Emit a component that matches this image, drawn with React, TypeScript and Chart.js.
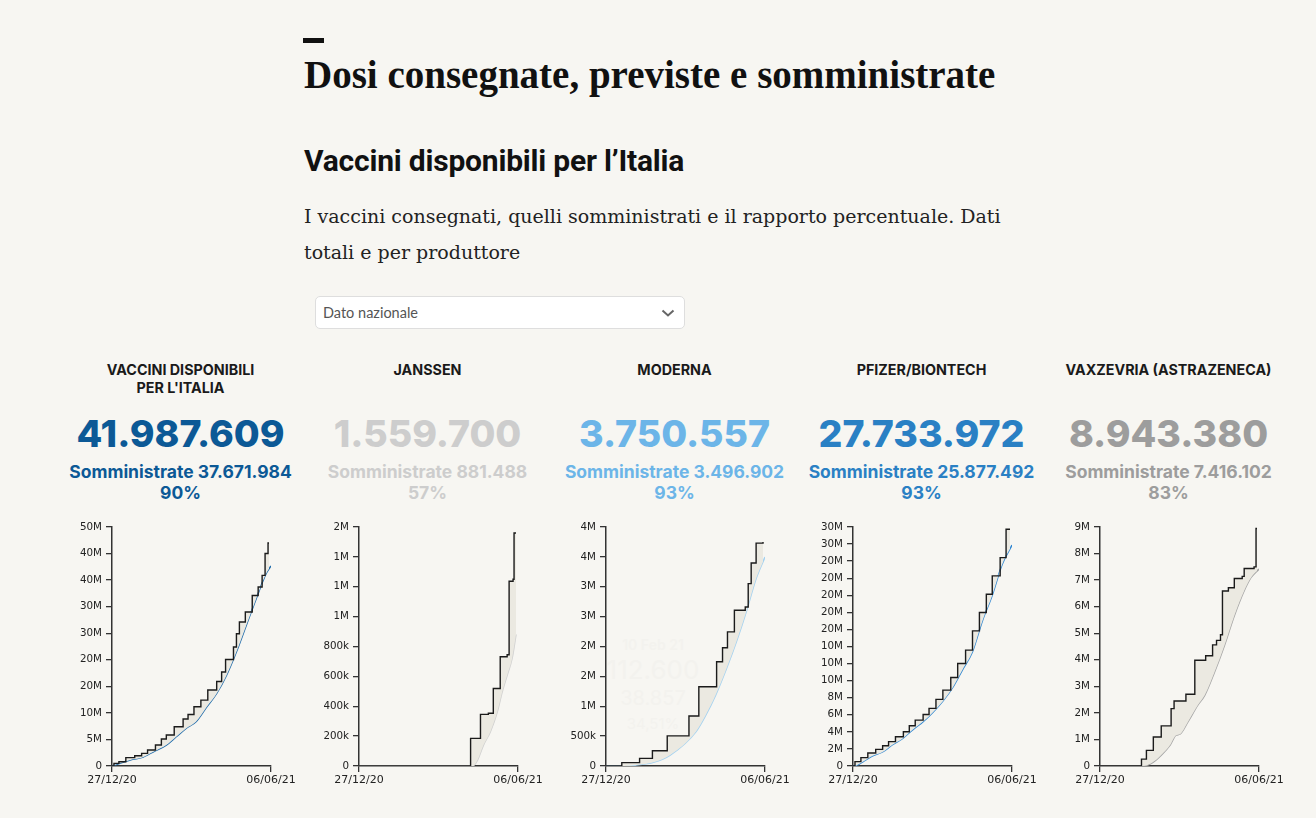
import React, { useEffect, useRef } from 'react';
import { Chart, registerables } from 'chart.js';

Chart.register(...registerables);

// ---------- DATA ----------
const vaccineNames = ["VACCINI DISPONIBILI\nPER L'ITALIA", 'JANSSEN', 'MODERNA', 'PFIZER/BIONTECH', 'VAXZEVRIA (ASTRAZENECA)'];
const deliveredTotals = [41987609, 1559700, 3750557, 27733972, 8943380];
const administeredTotals = [37671984, 881488, 3496902, 25877492, 7416102];
const percentages = ['90%', '57%', '93%', '93%', '83%'];

// x: giorni dal 27/12/20 (0) al 06/06/21 (161)
const xTickDays = [0, 161];
const xTickLabels = ['27/12/20', '06/06/21'];

// Totale
const totDelDays = [0, 2, 7, 14, 23, 30, 36, 44, 50, 55, 63, 72, 77, 83, 90, 97, 106, 111, 115, 123, 126, 129, 135, 142, 148, 152, 155, 158, 159];
const totDelValues = [0, 500000, 810000, 1570000, 1940000, 2380000, 3000000, 3950000, 5080000, 5830000, 7400000, 8840000, 9700000, 11150000, 12400000, 14300000, 15900000, 17700000, 20050000, 22400000, 24900000, 27100000, 29000000, 32100000, 33700000, 35900000, 40000000, 41987609, 41987609];
const totAdmDays = [0, 11, 21, 30, 42, 55, 65, 75, 85, 96, 106, 116, 126, 136, 146, 156, 161];
const totAdmValues = [0, 690000, 1250000, 1570000, 2690000, 3950000, 5510000, 7080000, 8330000, 11160000, 13660000, 17100000, 21500000, 26500000, 31500000, 36200000, 37671984];
const totYTicks = [0, 5e6, 10e6, 15e6, 20e6, 25e6, 30e6, 35e6, 40e6, 45e6];
const totYLabels = ['0', '5M', '10M', '20M', '20M', '30M', '30M', '40M', '40M', '50M'];

// Janssen
const janDelDays = [0, 113, 123, 131, 136, 143, 150, 152, 156, 157, 159];
const janDelValues = [0, 184800, 345600, 352800, 518400, 731400, 745000, 1236500, 1250000, 1559700, 1559700];
const janAdmDays = [0, 115, 120, 126, 133, 140, 145, 150, 155, 159];
const janAdmValues = [0, 0, 40000, 140000, 230000, 363000, 497000, 608000, 720000, 881488];
const janYTicks = [0, 200000, 400000, 600000, 800000, 1000000, 1200000, 1400000, 1600000];
const janYLabels = ['0', '200k', '400k', '600k', '800k', '1M', '1M', '1M', '2M'];

// Moderna
const modDelDays = [0, 16, 34, 47, 62, 84, 94, 112, 118, 123, 130, 141, 144, 147, 152, 159];
const modDelValues = [0, 56000, 128000, 256000, 505000, 836000, 1326000, 1744000, 1978000, 2245000, 2607000, 2660000, 3053000, 3398000, 3730000, 3750557];
const modAdmDays = [0, 18, 31, 48, 65, 91, 101, 111, 122, 132, 142, 152, 161];
const modAdmValues = [0, 0, 17000, 61000, 184000, 574000, 852000, 1187000, 1632000, 2078000, 2580000, 3137000, 3496902];
const modYTicks = [0, 500000, 1000000, 1500000, 2000000, 2500000, 3000000, 3500000, 4000000];
const modYLabels = ['0', '500k', '1M', '2M', '2M', '3M', '3M', '4M', '4M'];

// Pfizer/BioNTech
const pfiDelDays = [0, 2, 8, 15, 23, 30, 36, 43, 51, 57, 63, 71, 77, 84, 91, 99, 106, 114, 121, 128, 135, 141, 149, 155, 159];
const pfiDelValues = [0, 510000, 980000, 1520000, 1950000, 2380000, 2850000, 3430000, 4020000, 4720000, 5380000, 6040000, 6750000, 7800000, 8890000, 10370000, 12000000, 13570000, 15830000, 17980000, 20120000, 22270000, 24410000, 27733972, 27733972];
const pfiAdmDays = [0, 2, 10, 20, 30, 40, 50, 61, 71, 81, 91, 101, 111, 121, 131, 141, 151, 161];
const pfiAdmValues = [0, 20000, 500000, 1200000, 1650000, 2500000, 3200000, 4300000, 5200000, 6300000, 7600000, 9200000, 11300000, 13400000, 17000000, 20000000, 23600000, 25877492];
const pfiYTicks = [0, 2e6, 4e6, 6e6, 8e6, 10e6, 12e6, 14e6, 16e6, 18e6, 20e6, 22e6, 24e6, 26e6, 28e6];
const pfiYLabels = ['0', '2M', '4M', '6M', '8M', '10M', '10M', '10M', '20M', '20M', '20M', '20M', '20M', '30M', '30M'];

// Vaxzevria (AstraZeneca)
const astDelDays = [0, 42, 47, 54, 62, 72, 75, 87, 96, 107, 114, 118, 122, 124, 130, 136, 144, 146, 156, 158, 159];
const astDelValues = [0, 260000, 590000, 1090000, 1510000, 2160000, 2450000, 2700000, 3980000, 4150000, 4560000, 4730000, 4940000, 6590000, 6710000, 7060000, 7140000, 7440000, 7500000, 8943380, 8943380];
const astAdmDays = [0, 43, 52, 62, 71, 77, 81, 89, 99, 106, 116, 126, 136, 146, 153, 161];
const astAdmValues = [0, 0, 100000, 410000, 790000, 1160000, 1200000, 1660000, 2290000, 2660000, 3540000, 4540000, 5660000, 6600000, 7100000, 7416102];
const astYTicks = [0, 1e6, 2e6, 3e6, 4e6, 5e6, 6e6, 7e6, 8e6, 9e6];
const astYLabels = ['0', '1M', '2M', '3M', '4M', '5M', '6M', '7M', '8M', '9M'];

// ---------- STYLE ----------
const BG = '#f7f6f2';
const FILL = '#ebe9e1';
const AXIS = '#333333';
const numberColors = ['#0c5996', '#cdcdcd', '#6cb5e8', '#2a80c4', '#9d9d9d'];
const lineColors = ['#1d6aab', '#d0d0d0', '#a3d1f0', '#3489d2', '#a5a5a5'];

const series = [
  { dd: totDelDays, dv: totDelValues, ad: totAdmDays, av: totAdmValues, yt: totYTicks, yl: totYLabels },
  { dd: janDelDays, dv: janDelValues, ad: janAdmDays, av: janAdmValues, yt: janYTicks, yl: janYLabels },
  { dd: modDelDays, dv: modDelValues, ad: modAdmDays, av: modAdmValues, yt: modYTicks, yl: modYLabels },
  { dd: pfiDelDays, dv: pfiDelValues, ad: pfiAdmDays, av: pfiAdmValues, yt: pfiYTicks, yl: pfiYLabels },
  { dd: astDelDays, dv: astDelValues, ad: astAdmDays, av: astAdmValues, yt: astYTicks, yl: astYLabels },
];

const fmt = (n: number) => String(n).replace(/\B(?=(\d{3})+(?!\d))/g, '.');

const COL_W = 247;
const COL_X0 = 57;

function MiniChart({ idx }: { idx: number }) {
  const ref = useRef<HTMLCanvasElement | null>(null);
  useEffect(() => {
    const s = series[idx];
    const delPts = s.dd.map((d, i) => ({ x: d, y: s.dv[i] }));
    const admPts = s.ad.map((d, i) => ({ x: d, y: s.av[i] }));
    const ymax = s.yt[s.yt.length - 1];
    const chart = new Chart(ref.current as HTMLCanvasElement, {
      type: 'line',
      data: {
        datasets: [
          {
            data: delPts,
            borderColor: '#1b1b1b',
            borderWidth: 1.4,
            stepped: 'before',
            pointRadius: 0,
            fill: '+1',
            backgroundColor: FILL,
          } as any,
          {
            data: admPts,
            borderColor: lineColors[idx],
            borderWidth: 1.5,
            pointRadius: 0,
            cubicInterpolationMode: 'monotone',
            fill: false,
          } as any,
        ],
      },
      options: {
        animation: false,
        responsive: false,
        events: [],
        layout: { padding: { top: 12, right: 33, bottom: 0, left: 0 } },
        plugins: { legend: { display: false }, tooltip: { enabled: false } },
        scales: {
          x: {
            type: 'linear',
            min: 0,
            max: 161,
            afterBuildTicks: (sc: any) => {
              sc.ticks = xTickDays.map((v) => ({ value: v }));
            },
            afterFit: (sc: any) => {
              sc.height = 29;
            },
            ticks: {
              autoSkip: false,
              maxRotation: 0,
              padding: 2,
              color: '#222',
              font: { family: 'DejaVu Sans', size: 11 },
              callback: (_v: any, i: number) => xTickLabels[i],
            },
            grid: { drawOnChartArea: false, tickLength: 6, color: AXIS, lineWidth: 1.3 },
            border: { color: AXIS, width: 1.5 },
          },
          y: {
            type: 'linear',
            min: 0,
            max: ymax,
            afterBuildTicks: (sc: any) => {
              sc.ticks = s.yt.map((v) => ({ value: v }));
            },
            afterFit: (sc: any) => {
              sc.width = 55;
            },
            ticks: {
              autoSkip: false,
              padding: 4,
              color: '#222',
              font: { family: 'DejaVu Sans', size: 10.3 },
              callback: (_v: any, i: number) => s.yl[i],
            },
            grid: { drawOnChartArea: false, tickLength: 6, color: AXIS, lineWidth: 1.3 },
            border: { color: AXIS, width: 1.5 },
          },
        },
      } as any,
    });
    return () => chart.destroy();
  }, [idx]);
  return <canvas ref={ref} width={247} height={280} style={{ display: 'block', width: 247, height: 280 }} />;
}

export default function App() {
  useEffect(() => {
    document.body.style.margin = '0';
    document.body.style.background = BG;
    document.documentElement.style.background = BG;
  }, []);

  const abs = (o: React.CSSProperties): React.CSSProperties => ({ position: 'absolute', margin: 0, ...o });

  return (
    <div style={{ position: 'relative', width: 1316, height: 818, background: BG, overflow: 'hidden' }}>
      <div style={abs({ left: 303, top: 38, width: 21, height: 5, background: '#111' })} />
      <div
        style={abs({
          left: 304, top: 52, fontFamily: '"Liberation Serif", serif', fontWeight: 700, fontSize: 39,
          lineHeight: '45px', color: '#111', whiteSpace: 'nowrap',
        })}
      >
        Dosi consegnate, previste e somministrate
      </div>
      <div
        style={abs({
          left: 304, top: 144, fontFamily: 'Roboto, sans-serif', fontWeight: 700, fontSize: 30,
          lineHeight: '34px', color: '#111', whiteSpace: 'nowrap', letterSpacing: -0.2,
        })}
      >
        Vaccini disponibili per l’Italia
      </div>
      <div
        style={abs({
          left: 304, top: 198, fontFamily: '"DejaVu Serif", serif', fontSize: 19,
          lineHeight: '36px', color: '#222', whiteSpace: 'nowrap',
        })}
      >
        I vaccini consegnati, quelli somministrati e il rapporto percentuale. Dati
        <br />
        totali e per produttore
      </div>

      <div
        style={abs({
          left: 315, top: 296, width: 368, height: 31, background: '#fff', border: '1px solid #dedede',
          borderRadius: 5,
        })}
      >
        <div
          style={abs({
            left: 7, top: 0, lineHeight: '31px', fontFamily: 'Lato, sans-serif', fontSize: 14.5, color: '#555',
          })}
        >
          Dato nazionale
        </div>
        <svg style={abs({ left: 345, top: 12, width: 14, height: 9 })} viewBox="0 0 14 9">
          <polyline points="1.5,1.5 7,6.5 12.5,1.5" fill="none" stroke="#666" strokeWidth="2" />
        </svg>
      </div>

      <div
        style={abs({
          left: 598, top: 638, width: 110, textAlign: 'center', color: '#f3f2ee', fontFamily: 'Inter, sans-serif',
          pointerEvents: 'none', lineHeight: 1,
        })}
      >
        <div style={{ fontSize: 14, fontWeight: 600 }}>10 Feb 21</div>
        <div style={{ fontSize: 26, marginTop: 5 }}>112.600</div>
        <div style={{ fontSize: 20, marginTop: 5 }}>38.857</div>
        <div style={{ fontSize: 15, marginTop: 8 }}>34,51%</div>
      </div>

      {vaccineNames.map((name, i) => {
        const cx = COL_X0 + COL_W * i;
        return (
          <React.Fragment key={i}>
            <div
              style={abs({
                left: cx, top: 361, width: COL_W, textAlign: 'center', whiteSpace: 'pre-line',
                fontFamily: 'Inter, sans-serif', fontWeight: 700, fontSize: 14.3, lineHeight: '18px', color: '#1a1a1a',
              })}
            >
              {name}
            </div>
            <div
              style={abs({
                left: cx, top: 414, width: COL_W, textAlign: 'center', fontFamily: 'Inter, sans-serif',
                fontWeight: 800, fontSize: 37.5, lineHeight: '40px', color: numberColors[i],
              })}
            >
              {fmt(deliveredTotals[i])}
            </div>
            <div
              style={abs({
                left: cx, top: 461, width: COL_W, textAlign: 'center', fontFamily: 'Inter, sans-serif',
                fontWeight: 700, fontSize: 17.5, lineHeight: '21px', color: numberColors[i],
              })}
            >
              Somministrate {fmt(administeredTotals[i])}
              <br />
              {percentages[i]}
            </div>
            <div style={abs({ left: cx, top: 515, width: 247, height: 280 })}>
              <MiniChart idx={i} />
            </div>
          </React.Fragment>
        );
      })}
    </div>
  );
}
